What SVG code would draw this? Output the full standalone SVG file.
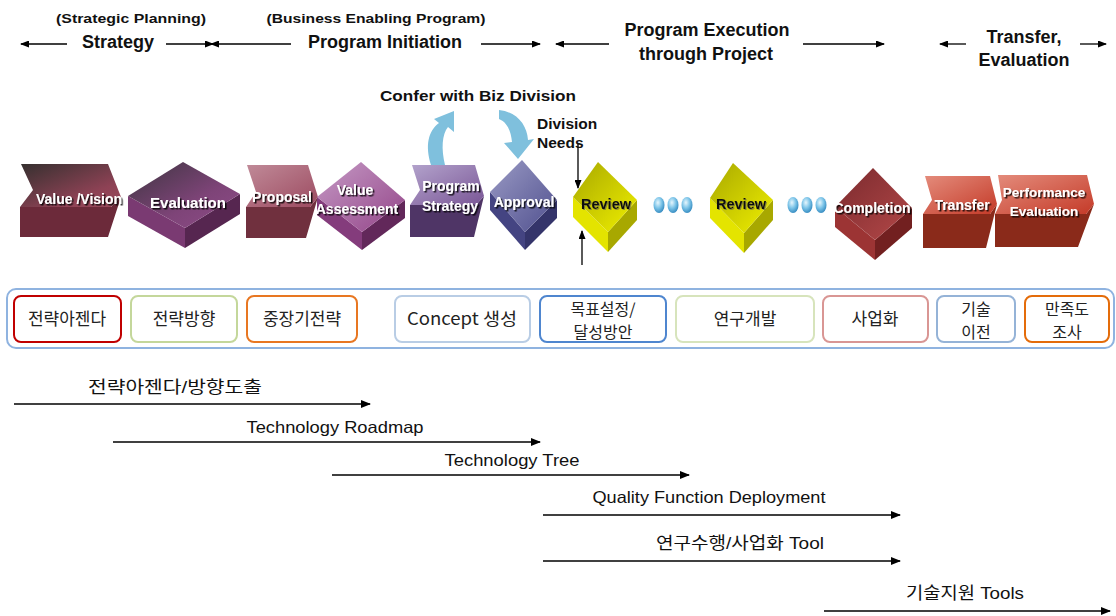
<svg xmlns="http://www.w3.org/2000/svg" width="1116" height="616" viewBox="0 0 1116 616">
<defs>
<marker id="ah" markerWidth="10" markerHeight="8" refX="9" refY="4" orient="auto" markerUnits="userSpaceOnUse"><path d="M0,0 L10,4 L0,8 Z" fill="#000"/></marker>
<marker id="ahs" markerWidth="9" markerHeight="7" refX="8" refY="3.5" orient="auto" markerUnits="userSpaceOnUse"><path d="M0,0 L9,3.5 L0,7 Z" fill="#000"/></marker>
<filter id="sh" x="-10%" y="-30%" width="130%" height="170%"><feDropShadow dx="1.5" dy="1.5" stdDeviation="0.6" flood-color="#000" flood-opacity="0.85"/></filter>
<filter id="shl" x="-10%" y="-30%" width="130%" height="170%"><feDropShadow dx="1" dy="1" stdDeviation="0.5" flood-color="#555" flood-opacity="0.6"/></filter>
<linearGradient id="gVV" x1="0" y1="0" x2="1" y2="1"><stop offset="0" stop-color="#35302f"/><stop offset="0.7" stop-color="#8e4255"/><stop offset="1" stop-color="#9a4a5c"/></linearGradient>
<linearGradient id="gEv" x1="0" y1="0" x2="1" y2="1"><stop offset="0" stop-color="#3d3540"/><stop offset="0.6" stop-color="#7e4478"/><stop offset="1" stop-color="#8e4c88"/></linearGradient>
<linearGradient id="gPr" x1="0" y1="0" x2="1" y2="1"><stop offset="0" stop-color="#c08a98"/><stop offset="1" stop-color="#9c4a60"/></linearGradient>
<linearGradient id="gVA" x1="0" y1="0" x2="1" y2="1"><stop offset="0" stop-color="#c59ac5"/><stop offset="1" stop-color="#934488"/></linearGradient>
<linearGradient id="gPS" x1="0" y1="0" x2="1" y2="1"><stop offset="0" stop-color="#b3a3cc"/><stop offset="1" stop-color="#7a5696"/></linearGradient>
<linearGradient id="gAp" x1="0" y1="0" x2="1" y2="1"><stop offset="0" stop-color="#9a9ac4"/><stop offset="1" stop-color="#4f4f8e"/></linearGradient>
<linearGradient id="gRv" x1="0" y1="0" x2="1" y2="1"><stop offset="0" stop-color="#a8a800"/><stop offset="1" stop-color="#f0f000"/></linearGradient>
<linearGradient id="gCo" x1="0" y1="0" x2="1" y2="1"><stop offset="0" stop-color="#7a2a2e"/><stop offset="1" stop-color="#b44848"/></linearGradient>
<linearGradient id="gTr" x1="0" y1="0" x2="1" y2="1"><stop offset="0" stop-color="#e48c7c"/><stop offset="1" stop-color="#c43a28"/></linearGradient>
<radialGradient id="gDot" cx="0.4" cy="0.35" r="0.7"><stop offset="0" stop-color="#e6f6fd"/><stop offset="0.5" stop-color="#7cc4e8"/><stop offset="1" stop-color="#2f86bd"/></radialGradient>
<style>
.hd{font-family:"Liberation Sans",Arial,sans-serif;font-weight:bold;font-size:18px;fill:#111;text-anchor:middle}
.sub{font-family:"Liberation Sans",Arial,sans-serif;font-weight:bold;font-size:13px;fill:#111;text-anchor:middle}
.lbl{font-family:"Liberation Sans",Arial,sans-serif;font-weight:bold;font-size:14px;fill:#fff;text-anchor:middle;filter:url(#sh)}
.dk{font-family:"Liberation Sans",Arial,sans-serif;font-weight:bold;font-size:14.5px;fill:#111;text-anchor:middle;filter:url(#shl)}
.note{font-family:"Liberation Sans",Arial,sans-serif;font-weight:bold;font-size:15.5px;fill:#111}
.bx{fill:#fff;stroke-width:2}
.kt{font-family:"Noto Sans CJK KR","Liberation Sans",sans-serif;font-size:17px;fill:#222;text-anchor:middle}
.kt2{font-family:"Noto Sans CJK KR","Liberation Sans",sans-serif;font-size:16px;fill:#222;text-anchor:middle}
.bt{font-family:"Liberation Sans","Noto Sans CJK KR",sans-serif;font-size:16.5px;fill:#111;text-anchor:middle}
.ln{stroke:#000;stroke-width:1.3;fill:none}
.ln2{stroke:#000;stroke-width:1.5;fill:none}
.bl{fill:#7fc0dd}
</style>
</defs>

<g id="header">
<text class="sub" x="131" y="23" textLength="150" lengthAdjust="spacingAndGlyphs">(Strategic Planning)</text>
<text class="hd" x="118" y="48">Strategy</text>
<text class="sub" x="376" y="23" textLength="219" lengthAdjust="spacingAndGlyphs">(Business Enabling Program)</text>
<text class="hd" x="385" y="48">Program Initiation</text>
<text class="hd" x="707" y="36">Program Execution</text>
<text class="hd" x="706" y="60">through Project</text>
<text class="hd" x="1024" y="43">Transfer,</text>
<text class="hd" x="1024" y="66">Evaluation</text>
</g>

<g id="connectors">
<line class="ln" x1="67" y1="44" x2="21" y2="44" marker-end="url(#ahs)"/>
<line class="ln" x1="166" y1="44" x2="213" y2="44" marker-end="url(#ahs)"/>
<line class="ln" x1="291" y1="44" x2="211" y2="44" marker-end="url(#ahs)"/>
<line class="ln" x1="481" y1="44" x2="540" y2="44" marker-end="url(#ahs)"/>
<line class="ln" x1="609" y1="44" x2="556" y2="44" marker-end="url(#ahs)"/>
<line class="ln" x1="803" y1="44" x2="884" y2="44" marker-end="url(#ahs)"/>
<line class="ln" x1="966" y1="44" x2="940" y2="44" marker-end="url(#ahs)"/>
<line class="ln" x1="1080" y1="44" x2="1106" y2="44" marker-end="url(#ahs)"/>
<line class="ln" x1="578" y1="143" x2="578" y2="188" marker-end="url(#ahs)"/>
<line class="ln" x1="582" y1="265" x2="582" y2="231" marker-end="url(#ahs)"/>
<path class="bl" d="M431,165 C425,146 428,131 439,123 L434,119 L454,111 L454,132 L448,127 C442,134 441,149 445,165 Z"/>
<path class="bl" d="M499,110 C517,112 527,125 528,140 L534,139 L518,159 L504,143 L512,142 C511,131 507,122 499,119 Z"/>
<line class="ln2" x1="14" y1="404" x2="370" y2="404" marker-end="url(#ah)"/>
<line class="ln2" x1="113" y1="442" x2="540" y2="442" marker-end="url(#ah)"/>
<line class="ln2" x1="332" y1="475" x2="689" y2="475" marker-end="url(#ah)"/>
<line class="ln2" x1="543" y1="515" x2="900" y2="515" marker-end="url(#ah)"/>
<line class="ln2" x1="543" y1="561" x2="900" y2="561" marker-end="url(#ah)"/>
<line class="ln2" x1="824" y1="611" x2="1110" y2="611" marker-end="url(#ah)"/>
</g>

<g id="notes">
<text class="note" x="478" y="101" text-anchor="middle" textLength="196" lengthAdjust="spacingAndGlyphs">Confer with Biz Division</text>
<text class="note" x="537" y="129">Division</text>
<text class="note" x="537" y="148">Needs</text>
</g>

<g id="value-vision">
<path d="M20,207 H111 L121,197 L108,237 H20 Z" fill="#6c2a3a"/>
<path d="M21,164 H108 L121,197 L111,207 H20 L33,190 Z" fill="url(#gVV)"/>
<text class="lbl" x="79" y="204">Value /Vision</text>
</g>
<g id="evaluation">
<path d="M128,196 L185,228 L185,248 L128,216 Z" fill="#7a3a72"/>
<path d="M185,228 L240,194 L240,214 L185,248 Z" fill="#562650"/>
<path d="M128,196 L183,162 L240,194 L185,228 Z" fill="url(#gEv)"/>
<text class="lbl" x="188" y="208" style="font-size:15px">Evaluation</text>
</g>
<g id="proposal">
<path d="M246,207 H310 L318,197 L306,238 H246 Z" fill="#70303e"/>
<path d="M247,165 H308 L318,197 L310,207 H246 L256,192 Z" fill="url(#gPr)"/>
<text class="lbl" x="282" y="202">Proposal</text>
</g>
<g id="value-assessment">
<path d="M317,197 L362,232 L362,250 L317,215 Z" fill="#843c7c"/>
<path d="M362,232 L405,200 L405,218 L362,250 Z" fill="#62285a"/>
<path d="M317,197 L361,162 L405,200 L362,232 Z" fill="url(#gVA)"/>
<text class="lbl" x="355" y="195">Value</text>
<text class="lbl" x="357" y="214">Assessment</text>
</g>
<g id="program-strategy">
<path d="M410,205 H476 L484,196 L474,237 H410 Z" fill="#4f3566"/>
<path d="M412,165 H475 L484,196 L476,205 H410 L420,190 Z" fill="url(#gPS)"/>
<text class="lbl" x="451" y="191">Program</text>
<text class="lbl" x="450" y="211">Strategy</text>
</g>
<g id="approval">
<path d="M490,192 L525,232 L525,250 L490,210 Z" fill="#444482"/>
<path d="M525,232 L557,200 L557,218 L525,250 Z" fill="#34346a"/>
<path d="M490,192 L522,160 L557,200 L525,232 Z" fill="url(#gAp)"/>
<text class="lbl" x="524" y="207">Approval</text>
</g>
<g id="review-1">
<path d="M573,197 L608,232 L608,252 L573,217 Z" fill="#e4e400"/>
<path d="M608,232 L637,200 L637,220 L608,252 Z" fill="#a8a800"/>
<path d="M573,197 L598,162 L637,200 L608,232 Z" fill="url(#gRv)"/>
<text class="dk" x="606" y="209">Review</text>
</g>
<g id="dots-1">
<ellipse cx="659" cy="205" rx="5.5" ry="8" fill="url(#gDot)"/>
<ellipse cx="673" cy="205" rx="5.5" ry="8" fill="url(#gDot)"/>
<ellipse cx="687" cy="205" rx="5.5" ry="8" fill="url(#gDot)"/>
</g>
<g id="review-2">
<path d="M710,198 L744,233 L744,253 L710,218 Z" fill="#e4e400"/>
<path d="M744,233 L773,200 L773,220 L744,253 Z" fill="#a8a800"/>
<path d="M710,198 L733,163 L773,200 L744,233 Z" fill="url(#gRv)"/>
<text class="dk" x="741" y="209">Review</text>
</g>
<g id="dots-2">
<ellipse cx="793" cy="205" rx="5.5" ry="8" fill="url(#gDot)"/>
<ellipse cx="807" cy="205" rx="5.5" ry="8" fill="url(#gDot)"/>
<ellipse cx="821" cy="205" rx="5.5" ry="8" fill="url(#gDot)"/>
</g>
<g id="completion">
<path d="M835,207 L875,240 L875,260 L835,227 Z" fill="#9c3434"/>
<path d="M875,240 L912,208 L912,228 L875,260 Z" fill="#722020"/>
<path d="M835,207 L873,168 L912,208 L875,240 Z" fill="url(#gCo)"/>
<text class="lbl" x="872" y="213">Completion</text>
</g>
<g id="transfer">
<path d="M923,214 H990 L997,204 L986,248 H923 Z" fill="#8a2a1a"/>
<path d="M925,176 H990 L997,204 L990,214 H923 L932,200 Z" fill="url(#gTr)"/>
<text class="lbl" x="962" y="210">Transfer</text>
</g>
<g id="performance-evaluation">
<path d="M995,214 H1086 L1094,204 L1078,247 H995 Z" fill="#8a2a1a"/>
<path d="M998,175 H1087 L1094,204 L1086,214 H995 L1002,200 Z" fill="url(#gTr)"/>
<text class="lbl" x="1044" y="197" style="font-size:13.5px">Performance</text>
<text class="lbl" x="1044" y="216" style="font-size:13.5px">Evaluation</text>
</g>

<g id="activity-band">
<rect x="7" y="289" width="1107" height="59" rx="9" fill="#fff" stroke="#8fb3e0" stroke-width="2"/>
</g>
<g id="box-1"><rect class="bx" x="14" y="296" width="107" height="46" rx="7" stroke="#c00000"/><text class="kt" x="67" y="325">전략아젠다</text></g>
<g id="box-2"><rect class="bx" x="131" y="296" width="106" height="46" rx="7" stroke="#c4d79b"/><text class="kt" x="184" y="325">전략방향</text></g>
<g id="box-3"><rect class="bx" x="247" y="296" width="110" height="46" rx="7" stroke="#e87722"/><text class="kt" x="302" y="325">중장기전략</text></g>
<g id="box-4"><rect class="bx" x="395" y="296" width="135" height="46" rx="7" stroke="#b9cde5"/><text class="kt" x="462" y="325" textLength="110" lengthAdjust="spacingAndGlyphs">Concept 생성</text></g>
<g id="box-5"><rect class="bx" x="540" y="296" width="126" height="46" rx="7" stroke="#4f86cf"/><text class="kt2" x="603" y="315">목표설정/</text><text class="kt2" x="603" y="338">달성방안</text></g>
<g id="box-6"><rect class="bx" x="676" y="296" width="138" height="46" rx="7" stroke="#d7e4bc"/><text class="kt" x="745" y="325">연구개발</text></g>
<g id="box-7"><rect class="bx" x="823" y="296" width="105" height="46" rx="7" stroke="#d99694"/><text class="kt" x="875" y="325">사업화</text></g>
<g id="box-8"><rect class="bx" x="937" y="296" width="78" height="46" rx="7" stroke="#95b3d7"/><text class="kt2" x="976" y="315">기술</text><text class="kt2" x="976" y="338">이전</text></g>
<g id="box-9"><rect class="bx" x="1025" y="296" width="84" height="46" rx="7" stroke="#e46c0a"/><text class="kt2" x="1067" y="315">만족도</text><text class="kt2" x="1067" y="338">조사</text></g>

<g id="tool-labels">
<text class="bt" x="175" y="393" textLength="174" lengthAdjust="spacingAndGlyphs">전략아젠다/방향도출</text>
<text class="bt" x="335" y="433" textLength="177" lengthAdjust="spacingAndGlyphs">Technology Roadmap</text>
<text class="bt" x="512" y="466" textLength="135" lengthAdjust="spacingAndGlyphs">Technology Tree</text>
<text class="bt" x="709" y="503" textLength="233" lengthAdjust="spacingAndGlyphs">Quality Function Deployment</text>
<text class="bt" x="740" y="549" textLength="168" lengthAdjust="spacingAndGlyphs">연구수행/사업화 Tool</text>
<text class="bt" x="965" y="599" textLength="118" lengthAdjust="spacingAndGlyphs">기술지원 Tools</text>
</g>
</svg>
